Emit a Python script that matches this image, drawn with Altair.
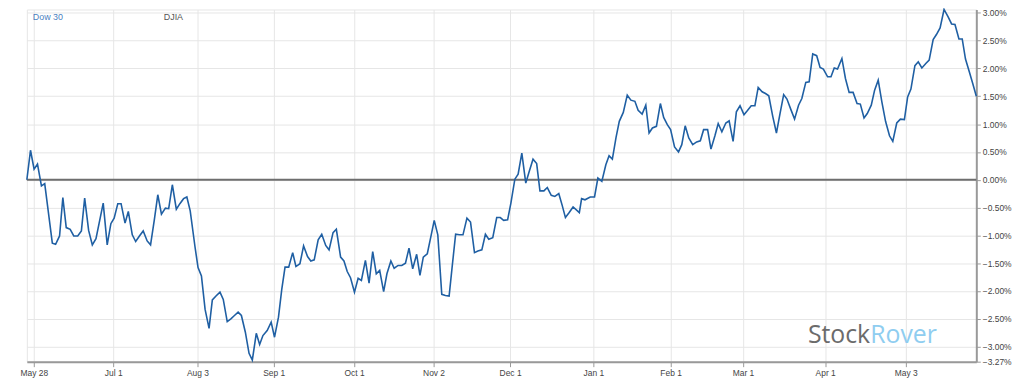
import altair as alt
import pandas as pd

# trading-day position and relative performance (%)
days = [0, 0.97, 1.92, 2.82, 3.87, 4.74, 6.76, 7.63, 8.68, 9.55, 10.45, 11.5, 12.45, 13.5,
        14.47, 15.34, 16.39, 17.37, 18.34, 20.26, 21.32, 22.29, 23.16, 24.13, 25.0, 26.05,
        26.92, 27.97, 28.87, 29.87, 30.87, 31.92, 32.82, 33.8, 34.74, 35.71, 36.76, 37.63,
        38.6, 39.66, 40.6, 41.58, 42.45, 43.34, 44.6, 45.42, 46.32, 47.29, 48.34, 49.21,
        50.18, 51.24, 52.11, 53.16, 54.13, 55.08, 56.05, 56.92, 57.97, 58.95, 59.82, 60.87,
        61.76, 62.63, 63.76, 64.82, 65.71, 66.76, 67.63, 68.5, 69.47, 70.53, 71.39, 72.45,
        73.42, 74.47, 75.34, 76.24, 77.29, 78.24, 79.29, 80.18, 81.24, 82.11, 83.24, 84.13,
        85.0, 85.87, 86.92, 87.89, 88.76, 89.82, 90.79, 91.76, 92.71, 93.61, 94.66, 95.53,
        96.58, 97.45, 98.5, 99.47, 100.45, 101.39, 102.37, 103.42, 104.29, 105.18, 106.24,
        107.16, 108.08, 109.03, 110.08, 111.05, 112.03, 112.89, 113.76, 114.74, 115.71,
        116.76, 117.71, 118.76, 119.66, 120.71, 121.66, 122.55, 123.61, 124.66, 125.61,
        126.5, 127.55, 128.42, 129.47, 130.34, 131.32, 132.37, 133.34, 134.29, 135.26,
        136.13, 137.18, 138.08, 139.13, 140.08, 141.13, 142.03, 142.89, 143.89, 144.92,
        146.58, 147.18, 148.08, 149.47, 150.61, 151.5, 152.55, 153.61, 154.47, 155.34,
        156.32, 157.18, 158.24, 159.29, 160.26, 161.32, 162.18, 163.24, 164.21, 165.08,
        165.97, 167.03, 168.08, 168.95, 169.92, 170.79, 171.84, 172.89, 173.76, 174.66,
        175.61, 176.66, 177.71, 178.68, 179.55, 180.61, 181.5, 182.55, 183.42, 184.39,
        185.45, 186.32, 187.37, 188.24, 189.21, 190.26, 191.13, 192.18, 193.16, 194.03,
        195.08, 195.97, 196.84, 197.89, 198.87, 199.82, 200.79, 201.66, 202.71, 203.68,
        204.74, 205.61, 206.66, 207.55, 208.5, 209.55, 210.45, 211.32, 212.45, 213.34,
        214.21, 215.08, 216.24, 217.18, 218.16, 219.21, 220.26, 221.13, 222.11, 222.97,
        224.03, 224.92, 225.87, 226.84, 227.82, 228.87, 229.74, 230.79, 231.76, 232.82,
        233.68, 234.55, 235.61, 236.5, 237.45, 238.5, 239.39, 240.45, 241.32, 242.29,
        243.34, 244.39, 245.34, 246.24, 247.29, 248.16, 249.03, 250.0, 250.95, 251.9]
pct = [0.0, 0.53, 0.19, 0.28, -0.11, -0.07, -1.14, -1.16, -1.01, -0.32, -0.86, -0.89, -1.01, -1.01,
       -0.92, -0.33, -0.91, -1.17, -1.06, -0.42, -1.17, -0.79, -0.69, -0.43, -0.43, -0.78,
       -0.57, -0.99, -1.11, -1.01, -0.92, -1.10, -1.17, -0.73, -0.27, -0.62, -0.51, -0.52,
       -0.09, -0.53, -0.43, -0.34, -0.31, -0.56, -1.20, -1.58, -1.73, -2.33, -2.67, -2.16,
       -2.09, -2.02, -2.15, -2.55, -2.50, -2.44, -2.38, -2.44, -2.74, -3.12, -3.24, -2.76,
       -2.96, -2.80, -2.71, -2.56, -2.83, -2.47, -1.97, -1.57, -1.57, -1.31, -1.56, -1.51,
       -1.19, -1.38, -1.46, -1.44, -1.08, -0.98, -1.18, -1.26, -0.95, -0.89, -1.39, -1.46,
       -1.65, -1.76, -2.02, -1.77, -1.81, -1.45, -1.86, -1.29, -1.69, -1.63, -2.01, -1.69,
       -1.46, -1.59, -1.54, -1.54, -1.50, -1.23, -1.60, -1.34, -1.72, -1.39, -1.33,
       -1.03, -0.73, -0.99, -2.06, -2.08, -2.09, -1.53, -0.98, -0.99, -0.99,
       -0.69, -0.76, -1.31, -1.28, -1.26, -0.98, -1.07, -1.04, -0.68, -0.68,
       -0.73, -0.72, -0.42, 0.01, 0.10, 0.48, -0.06, 0.16, 0.37, 0.29,
       -0.20, -0.20, -0.14, -0.28, -0.30, -0.25, -0.46, -0.68, -0.59, -0.49,
       -0.59, -0.34, -0.36, -0.31, -0.31, 0.03, -0.03, 0.27, 0.43, 0.37,
       0.76, 1.05, 1.21, 1.52, 1.43, 1.41, 1.25, 1.18, 1.34, 0.84,
       0.93, 0.96, 1.37, 1.12, 0.99, 0.90, 0.59, 0.50, 0.63, 0.97,
       0.75, 0.63, 0.68, 0.70, 0.90, 0.90, 0.55, 0.79, 1.01, 0.86,
       1.02, 1.06, 0.69, 1.22, 1.33, 1.17, 1.24, 1.33, 1.33, 1.66,
       1.58, 1.55, 1.51, 1.14, 0.84, 1.19, 1.53, 1.45, 1.26, 1.09,
       1.34, 1.46, 1.75, 1.76, 2.26, 2.23, 2.02, 1.99, 1.85, 1.85,
       2.01, 1.99, 2.18, 1.82, 1.57, 1.57, 1.37, 1.36, 1.11, 1.19,
       1.34, 1.61, 1.79, 1.40, 1.05, 0.79, 0.69, 1.02, 1.09, 1.08,
       1.49, 1.63, 2.05, 2.12, 2.01, 2.09, 2.15, 2.52, 2.61, 2.73,
       3.06, 2.93, 2.80, 2.79, 2.53, 2.53, 2.17, 1.95, 1.73, 1.50]

tick_days = [1.84, 22.9, 45.26, 65.5, 86.8, 107.9, 128.2, 150.3, 170.8, 190.0, 211.8, 233.2]
tick_labels = ["May 28", "Jul 1", "Aug 3", "Sep 1", "Oct 1", "Nov 2", "Dec 1", "Jan 1",
               "Feb 1", "Mar 1", "Apr 1", "May 3"]
y_ticks = [3.0, 2.5, 2.0, 1.5, 1.0, 0.5, 0.0, -0.5, -1.0, -1.5, -2.0, -2.5, -3.0, -3.27]
x_domain = [0, 251.9]
y_domain = [-3.27, 3.06]

df = pd.DataFrame({"day": days, "pct": pct})
zero_df = pd.DataFrame({"day": [x_domain[0], x_domain[1]], "pct": [0.0, 0.0]})

x_scale = alt.Scale(domain=x_domain, nice=False, zero=False)
y_scale = alt.Scale(domain=y_domain, nice=False, zero=False)

label_expr = ("[" + ",".join(f"'{l}'" for l in tick_labels) + "][indexof(["
              + ",".join(str(t) for t in tick_days) + "], datum.value)]")

FONT = "Liberation Sans"

x_axis = alt.Axis(values=tick_days, labelExpr=label_expr, title=None, orient="bottom",
                  grid=True, gridColor="#e6e6e6", gridWidth=1,
                  domainColor="#999999", domainWidth=2, tickColor="#999999",
                  tickSize=5, labelFont=FONT, labelFontSize=8.5, labelColor="#444444",
                  labelPadding=2, labelOverlap=False)
y_axis = alt.Axis(values=y_ticks, labelExpr="format(datum.value, '.2f') + '%'", title=None,
                  orient="right", grid=True, gridColor="#e6e6e6", gridWidth=1,
                  domainColor="#999999", domainWidth=2, tickColor="#999999", tickSize=4,
                  labelFont=FONT, labelFontSize=8.5, labelColor="#444444", labelPadding=2,
                  labelOverlap=False, labelAlign="left", labelBaseline="middle")

base_x = alt.X("day:Q", scale=x_scale, axis=x_axis)
base_y = alt.Y("pct:Q", scale=y_scale, axis=y_axis)

zero = alt.Chart(zero_df).mark_line(color="#6e6e6e", strokeWidth=2).encode(x=base_x, y=base_y)
line = alt.Chart(df).mark_line(color="#1f5fa3", strokeWidth=1.6).encode(x=base_x, y=base_y)

dow = alt.Chart(pd.DataFrame({"t": ["Dow 30"]})).mark_text(
    align="left", baseline="alphabetic", font=FONT, fontSize=9, color="#4a7fbf").encode(
    text="t:N", x=alt.value(6), y=alt.value(11))
djia = alt.Chart(pd.DataFrame({"t": ["DJIA"]})).mark_text(
    align="left", baseline="alphabetic", font=FONT, fontSize=9, color="#555555").encode(
    text="t:N", x=alt.value(138), y=alt.value(11))
stock = alt.Chart(pd.DataFrame({"t": ["Stock"]})).mark_text(
    align="right", baseline="alphabetic", font="Open Sans", fontSize=25, color="#6b6b6b").encode(
    text="t:N", x=alt.value(850), y=alt.value(336))
rover = alt.Chart(pd.DataFrame({"t": ["Rover"]})).mark_text(
    align="left", baseline="alphabetic", font="Open Sans", fontSize=25, color="#8fcdf0").encode(
    text="t:N", x=alt.value(850), y=alt.value(336))

chart = alt.layer(zero, line, stock, rover, dow, djia).properties(
    width=957, height=355,
    autosize=alt.AutoSizeParams(type="none"),
    padding={"left": 19, "top": 0, "right": 40, "bottom": 22},
    background="#ffffff",
).configure_view(stroke="#e6e6e6")

chart.save("out.html", embed_options={"renderer": "svg", "actions": False})
